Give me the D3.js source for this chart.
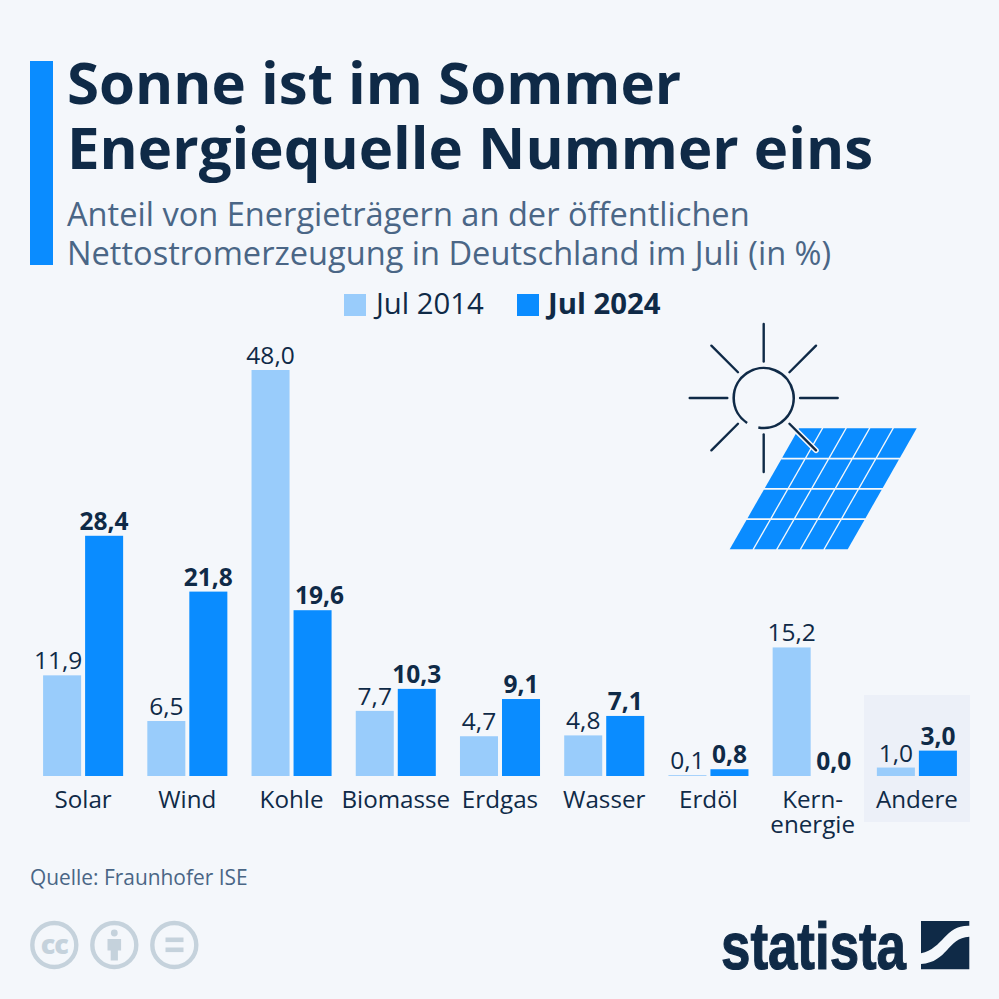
<!DOCTYPE html>
<html><head><meta charset="utf-8">
<script src="https://cdn.jsdelivr.net/npm/d3@7"></script>
<style>html,body{margin:0;padding:0;background:#f4f7fb}svg{display:block}text{font-family:"Open Sans",sans-serif}</style>
</head><body><svg id="c" width="999" height="999"></svg>
<script>
const categories = ["Solar","Wind","Kohle","Biomasse","Erdgas","Wasser","Erdöl","Kern-\nenergie","Andere"];
const seriesNames = ["Jul 2014","Jul 2024"];
const values2014 = [11.9,6.5,48.0,7.7,4.7,4.8,0.1,15.2,1.0];
const values2024 = [28.4,21.8,19.6,10.3,9.1,7.1,0.8,0.0,3.0];
const titleLines = ["Sonne ist im Sommer","Energiequelle Nummer eins"];
const subtitleLines = ["Anteil von Energieträgern an der öffentlichen","Nettostromerzeugung in Deutschland im Juli (in %)"];
const source = "Quelle: Fraunhofer ISE";
const DARK="#0f2a47",SUB="#4a6686",BLUE="#0a8cff",LIGHT="#99ccfb";
const svg=d3.select("#c");
svg.append("rect").attr("width",999).attr("height",999).attr("fill","#f4f7fb");
svg.append("rect").attr("x",30).attr("y",61).attr("width",23).attr("height",204).attr("fill",BLUE);
svg.selectAll(".t").data(titleLines).join("text").attr("class","t").attr("x",67).attr("y",(d,i)=>104+i*65)
  .attr("font-size",58.2).attr("font-weight",700).attr("fill",DARK).text(d=>d);
svg.selectAll(".s").data(subtitleLines).join("text").attr("class","s").attr("x",67).attr("y",(d,i)=>226+i*39)
  .attr("font-size",32.6).attr("fill",SUB).text(d=>d);
// legend
const lg=[{x:344,tx:376,c:LIGHT,w:400},{x:517,tx:548,c:BLUE,w:700}];
lg.forEach((l,i)=>{
  svg.append("rect").attr("x",l.x).attr("y",294).attr("width",22).attr("height",22).attr("fill",l.c);
  svg.append("text").attr("x",l.tx).attr("y",314).attr("font-size",29.3).attr("font-weight",l.w).attr("fill",DARK).text(seriesNames[i]);
});
// chart
const x0=d3.scaleBand().domain(categories).range([31,969]).paddingInner(.232).paddingOuter(.116);
const x1=d3.scaleBand().domain(seriesNames).range([0,x0.bandwidth()]).paddingInner(.095);
const y=d3.scaleLinear().domain([0,48]).range([776,370]);
svg.append("rect").attr("x",864).attr("y",695).attr("width",106).attr("height",127).attr("fill","#ecf0f8");
const rows=categories.map((c,i)=>({c,vals:[values2014[i],values2024[i]]}));
const g=svg.selectAll(".g").data(rows).join("g").attr("transform",d=>`translate(${x0(d.c)},0)`);
g.selectAll("rect").data(d=>d.vals.map((v,i)=>({v,i}))).join("rect")
  .attr("x",d=>x1(seriesNames[d.i])).attr("y",d=>y(d.v)).attr("width",x1.bandwidth())
  .attr("height",d=>y(0)-y(d.v)).attr("fill",d=>d.i?BLUE:LIGHT);
const fmt=v=>v.toFixed(1).replace(".",",");
// labels that would collide with a neighbouring bar are pushed sideways, as in the reference
const nudge=(c,i)=>c==="Solar"&&i===0?-4:c==="Kohle"&&i===1?7:0;
g.selectAll(".v").data(d=>d.vals.map((v,i)=>({v,i,c:d.c}))).join("text").attr("class","v")
  .attr("x",d=>x1(seriesNames[d.i])+x1.bandwidth()/2+nudge(d.c,d.i)).attr("y",d=>y(d.v)-6).attr("text-anchor","middle")
  .attr("font-size",24.5).attr("font-weight",d=>d.i?700:400).attr("fill",DARK).text(d=>fmt(d.v));
g.each(function(d){
  d.c.split("\n").forEach((t,i)=>d3.select(this).append("text").attr("x",x0.bandwidth()/2).attr("y",807.5+i*25.5)
    .attr("text-anchor","middle").attr("font-size",24.2).attr("fill",DARK).text(t));
});
// panel icon
const corners={tl:[799,428.3],tr:[916.7,428.3],bl:[729.7,549.3],br:[847.7,549.3]};
const P=(u,v)=>{const xl=corners.tl[0]+(corners.bl[0]-corners.tl[0])*v;const xr=corners.tr[0]+(corners.br[0]-corners.tr[0])*v;
  return [xl+(xr-xl)*u,corners.tl[1]+(corners.bl[1]-corners.tl[1])*v];};
const pn=svg.append("g");
const gu=.0065,gv=.0075;
d3.range(5).forEach(c=>d3.range(4).forEach(r=>{
  const u0=c/5+(c?gu:0),u1=(c+1)/5-(c<4?gu:0),v0=r/4+(r?gv:0),v1=(r+1)/4-(r<3?gv:0);
  pn.append("path").attr("d",d3.line()([P(u0,v0),P(u1,v0),P(u1,v1),P(u0,v1)])+"Z").attr("fill",BLUE);
}));
// sun icon
const sun=svg.append("g").attr("transform","translate(763.7,398)");
const rays=d3.range(8).map(i=>i*Math.PI/4);
sun.append("line").attr("x1",36.4*Math.SQRT1_2).attr("y1",36.4*Math.SQRT1_2).attr("x2",74*Math.SQRT1_2).attr("y2",74*Math.SQRT1_2)
  .attr("stroke","#f4f7fb").attr("stroke-width",5.5).attr("stroke-linecap","round");
sun.selectAll(".r").data(rays).join("line").attr("class","r")
  .attr("x1",a=>36.4*Math.cos(a)).attr("y1",a=>36.4*Math.sin(a)).attr("x2",a=>74*Math.cos(a)).attr("y2",a=>74*Math.sin(a))
  .attr("stroke",DARK).attr("stroke-width",2.4).attr("stroke-linecap","round");
const arcS=Math.PI+.586, arcE=Math.PI*3+.18;
sun.append("path").attr("d",d3.arc().innerRadius(30).outerRadius(30)({startAngle:arcS,endAngle:arcE}))
  .attr("fill","none").attr("stroke",DARK).attr("stroke-width",2.6).attr("stroke-linecap","round");
// source
svg.append("text").attr("x",30).attr("y",885).attr("font-size",20.9).attr("fill",SUB).text(source);
// cc icons
const CC="#c5d2dc";
[54.3,114.3,174.3].forEach(cx=>svg.append("circle").attr("cx",cx).attr("cy",945).attr("r",22).attr("fill","none").attr("stroke",CC).attr("stroke-width",4.4));
svg.append("text").attr("x",54.3).attr("y",954).attr("text-anchor","middle").attr("font-size",27).attr("font-weight",800).attr("letter-spacing",-1).attr("fill",CC).text("cc");
svg.append("circle").attr("cx",114.3).attr("cy",933).attr("r",3.4).attr("fill",CC);
svg.append("path").attr("d","M107.5 939h13.6v11.5h-3.2v10h-7.2v-10h-3.2z").attr("fill",CC);
[938,948].forEach(yy=>svg.append("rect").attr("x",165.5).attr("y",yy-.5).attr("width",18).attr("height",4.6).attr("fill",CC));
// statista logo
svg.append("text").attr("x",721).attr("y",969).attr("font-size",66).attr("textLength",185).attr("lengthAdjust","spacingAndGlyphs")
  .attr("font-weight",700).attr("fill",DARK).attr("stroke",DARK).attr("stroke-width",1.2).style("font-family","'Liberation Sans Narrow','Liberation Sans',sans-serif").text("statista");
svg.append("path").attr("d","M921 921H969.3V925.7C945 925 944 948 921 953.3Z").attr("fill",DARK);
svg.append("path").attr("d","M969.3 936.7V969.3H921V964C948 962 947 938 969.3 936.7Z").attr("fill",DARK);
</script></body></html>
